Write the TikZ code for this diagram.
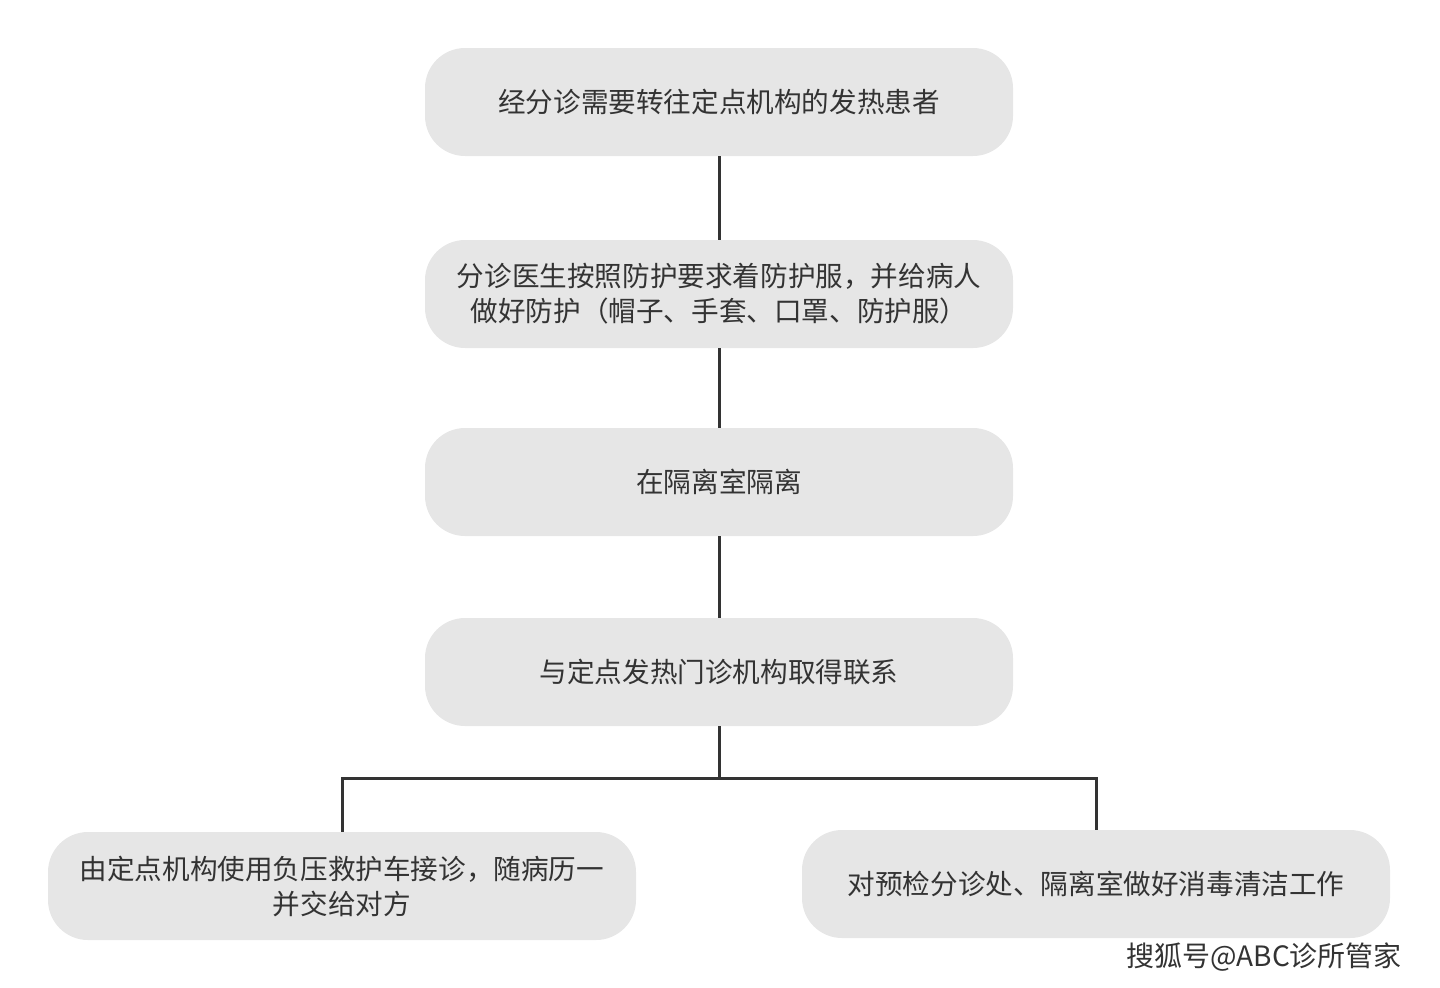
\documentclass[tikz,border=0pt]{standalone}
\usepackage{fontspec}
\setmainfont{Noto Sans CJK SC}
\begin{document}
\begin{tikzpicture}[x=0.5pt,y=-0.5pt,
  box/.style={fill=boxgray,rounded corners=20pt,minimum width=294pt,minimum height=54pt,align=center,font=\fontsize{13.8}{17.5}\selectfont,text=textgray,inner sep=0pt},
  conn/.style={draw=linegray,line width=1.5pt}]
\definecolor{boxgray}{HTML}{E6E6E6}
\definecolor{textgray}{HTML}{333333}
\definecolor{linegray}{HTML}{333333}
\useasboundingbox (0,0) rectangle (1440,987);
\node[box] (a) at (719,102) {经分诊需要转往定点机构的发热患者};
\node[box] (b) at (719,294) {分诊医生按照防护要求着防护服，并给病人\\做好防护（帽子、手套、口罩、防护服）};
\node[box] (c) at (719,482) {在隔离室隔离};
\node[box] (d) at (719,672) {与定点发热门诊机构取得联系};
\node[box] (e) at (342,886) {由定点机构使用负压救护车接诊，随病历一\\并交给对方};
\node[box] (f) at (1096,884) {对预检分诊处、隔离室做好消毒清洁工作};
\coordinate (j) at (719,778);
\draw[conn] (a) -- (b);
\draw[conn] (b) -- (c);
\draw[conn] (c) -- (d);
\draw[conn] (d) -- (j);
\draw[conn] (e.north) |- (j) -| (f.north);
\node[font=\fontsize{14}{16}\selectfont,text=textgray] (w) at (1264,957) {搜狐号@ABC诊所管家};
\end{tikzpicture}
\end{document}
